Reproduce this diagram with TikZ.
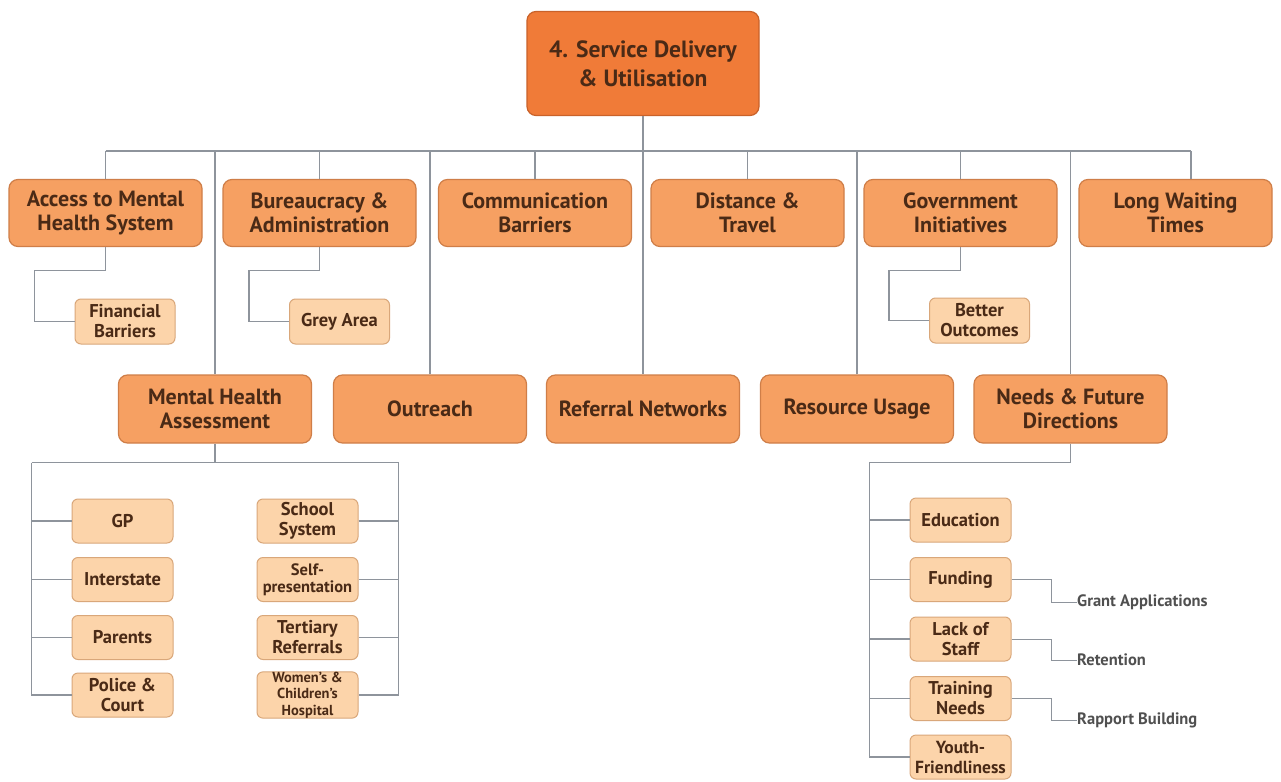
\documentclass[tikz,border=0pt]{standalone}
\usepackage{fontspec}
\setmainfont{PT Sans}
\begin{document}
\definecolor{topfill}{HTML}{F07B38}
\definecolor{topline}{HTML}{C9622A}
\definecolor{midfill}{HTML}{F6A062}
\definecolor{midline}{HTML}{CF7E48}
\definecolor{leaffill}{HTML}{FCD4AA}
\definecolor{leafline}{HTML}{D9A77A}
\definecolor{ink}{HTML}{4A2A16}
\definecolor{wire}{HTML}{8E949C}
\definecolor{note}{HTML}{505050}
\begin{tikzpicture}[x=1pt,y=-1pt,
  box/.style={rounded corners=9pt,line width=1.2pt,align=center,text=ink,inner sep=0pt},
  rootbox/.style={box,fill=topfill,draw=topline,minimum width=232pt,minimum height=104pt,
    font=\bfseries\fontsize{23.5}{29}\selectfont},
  topicbox/.style={box,fill=midfill,draw=midline,minimum width=193pt,minimum height=67pt,
    font=\bfseries\fontsize{22}{24}\selectfont},
  subbox/.style={box,rounded corners=6pt,line width=1pt,fill=leaffill,draw=leafline,
    minimum width=100pt,minimum height=45pt,font=\bfseries\fontsize{18.5}{20}\selectfont},
  leafbox/.style={subbox,minimum width=101pt,minimum height=44pt,font=\bfseries\fontsize{18.5}{20}\selectfont},
  notetext/.style={anchor=west,inner sep=0pt,text=note,font=\bfseries\fontsize{16.5}{18}\selectfont},
  link/.style={draw=wire,line width=1.2pt}]
\useasboundingbox[fill=white] (0,0) rectangle (1281,781);

% root
\node[rootbox] (root) at (643,63.5) {4. Service Delivery\\ \& Utilisation};

% first row of topics
\node[topicbox] (acc)  at (105.5,213) {Access to Mental\\Health System};
\node[topicbox] (bur)  at (319.5,213) {Bureaucracy \&\\Administration};
\node[topicbox] (com)  at (535,213)   {Communication\\Barriers};
\node[topicbox] (dist) at (747.5,213) {Distance \&\\Travel};
\node[topicbox] (gov)  at (960.5,213) {Government\\Initiatives};
\node[topicbox] (lwt)  at (1175.5,213) {Long Waiting\\Times};

% second row of topics
\node[topicbox,minimum height=68pt] (mha)  at (215,409) {Mental Health\\Assessment};
\node[topicbox,minimum height=68pt] (out)  at (430,409) {Outreach};
\node[topicbox,minimum height=68pt] (ref)  at (643,409) {Referral Networks};
\node[topicbox,minimum height=68pt] (res)  at (857,409) {Resource Usage};
\node[topicbox,minimum height=68pt] (need) at (1070.5,409) {Needs \& Future\\Directions};

% sub-topics under the first row
\node[subbox] (fin) at (125,321.5)   {Financial\\Barriers};
\node[subbox] (grey) at (339.5,321.5) {Grey Area};
\node[subbox] (bet) at (979.5,320.5) {Better\\Outcomes};

% assessment pathways
\node[leafbox] (gp)   at (122.5,521)   {GP};
\node[leafbox] (inte) at (122.5,579.5) {Interstate};
\node[leafbox] (par)  at (122.5,637.5) {Parents};
\node[leafbox] (pol)  at (122.5,695)   {Police \&\\Court};
\node[leafbox] (sch)  at (307.5,521)   {School\\System};
\node[leafbox,font=\bfseries\fontsize{16.5}{17}\selectfont] (self) at (307.5,579.5) {Self-\\presentation};
\node[leafbox] (ter)  at (307.5,637.5) {Tertiary\\Referrals};
\node[leafbox,font=\bfseries\fontsize{14.5}{16.5}\selectfont] (wch) at (307.5,695) {Women's \&\\Children's\\Hospital};

% needs and future directions
\node[leafbox] (edu)  at (960.5,520)   {Education};
\node[leafbox] (fund) at (960.5,579.5) {Funding};
\node[leafbox] (lack) at (960.5,639)   {Lack of\\Staff};
\node[leafbox] (train) at (960.5,698.5) {Training\\Needs};
\node[leafbox,font=\bfseries\fontsize{17.5}{20}\selectfont] (youth) at (960.5,757)  {Youth-\\Friendliness};

\node[notetext] (grant) at (1077,602) {Grant Applications};
\node[notetext] (ret)   at (1077,660) {Retention};
\node[notetext] (rap)   at (1077,720) {Rapport Building};

% main bus
\coordinate (bus) at (0,151);
\draw[link] (root.south) -- (ref.north);
\draw[link] (acc.north |- bus) -- ([xshift=15.5pt]lwt.north |- bus);
\foreach \n in {acc,bur,com,dist,gov}
  \draw[link] (\n.north) -- (\n.north |- bus);
\draw[link] ([xshift=15.5pt]lwt.north) -- ([xshift=15.5pt]lwt.north |- bus);
\foreach \n in {mha,out,res,need}
  \draw[link] (\n.north) -- (\n.north |- bus);

% elbow links to sub-topics
\draw[link] (acc.south) -- ++(0,23) -| ([xshift=-40pt]fin.west) -- (fin.west);
\draw[link] (bur.south) -- ++(0,23) -| ([xshift=-40pt]grey.west) -- (grey.west);
\draw[link] (gov.south) -- ++(0,23) -| ([xshift=-40pt]bet.west) -- (bet.west);

% assessment tree
\draw[link] (mha.south) -- ++(0,19) coordinate (mhab);
\draw[link] ([xshift=-40pt]pol.west |- mhab) -- ([xshift=40pt]wch.east |- mhab);
\draw[link] ([xshift=-40pt]pol.west |- mhab) -- ([xshift=-40pt]pol.west) -- (pol.west);
\draw[link] ([xshift=40pt]wch.east |- mhab) -- ([xshift=40pt]wch.east) -- (wch.east);
\foreach \n in {gp,inte,par}
  \draw[link] (\n.west) -- ++(-40,0);
\foreach \n in {sch,self,ter}
  \draw[link] (\n.east) -- ++(40,0);

% needs tree
\draw[link] (need.south) -- ++(0,19) -| ([xshift=-40pt]youth.west) -- (youth.west);
\foreach \n in {edu,fund,lack,train}
  \draw[link] (\n.west) -- ++(-40,0);
\draw[link,line width=1pt] (fund.east) -| ([xshift=-26pt]grant.west) -- (grant.west);
\draw[link,line width=1pt] (lack.east) -| ([xshift=-26pt]ret.west) -- (ret.west);
\draw[link,line width=1pt] (train.east) -| ([xshift=-26pt]rap.west) -- (rap.west);
\end{tikzpicture}
\end{document}
